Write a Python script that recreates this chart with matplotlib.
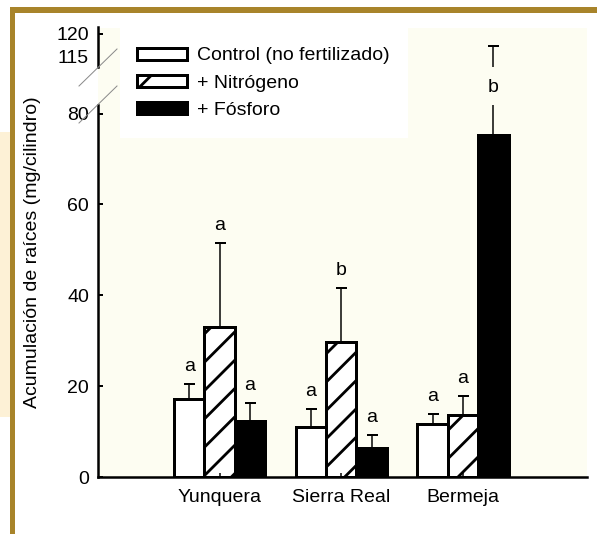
import numpy as np
import matplotlib.pyplot as plt
from matplotlib.patches import Patch, Rectangle
from matplotlib.lines import Line2D

# Agg hatch tiles are one inch wide, so the dpi sets the hatch spacing
DPI = 170
W, H = 597, 534


def px(n):
    """pixel size -> points at the output dpi"""
    return n * 72.0 / DPI


sites = ["Yunquera", "Sierra Real", "Bermeja"]
treatments = ["Control (no fertilizado)", "+ Nitrógeno", "+ Fósforo"]

# root accumulation (mg/cylinder), mean and upper error
control = [17.2, 11.0, 11.6]
control_err = [3.2, 3.9, 2.2]
nitrogen = [33.0, 29.8, 13.6]
nitrogen_err = [18.6, 11.9, 4.2]
phosphorus = [12.3, 6.4, 75.2]
phosphorus_err = [4.0, 2.8, 42.2]

control_letters = ["a", "a", "a"]
nitrogen_letters = ["a", "b", "a"]
phosphorus_letters = ["a", "a", "b"]

low_yticks = [0, 20, 40, 60, 80]
high_yticks = [115, 120]
low_ylim = (0, 81.9)
high_ylim = (112.7, 121.5)

plt.rcParams["font.family"] = ["Liberation Sans", "DejaVu Sans"]
plt.rcParams["hatch.linewidth"] = px(2.8)
fs = px(19.5)

fig = plt.figure(figsize=(W / DPI, H / DPI), dpi=DPI)
fig.patch.set_facecolor("white")


def fig_rect(x0, y0, x1, y1, **kw):
    # box given in pixels from the top-left corner
    return Rectangle((x0 / W, 1 - y1 / H), (x1 - x0) / W, (y1 - y0) / H,
                     transform=fig.transFigure, linewidth=0, **kw)


# page decoration and plot background
fig.patches.append(fig_rect(0, 132, 10, 417, facecolor="#fdf1d6", zorder=-3))
fig.patches.append(fig_rect(10, 7, 597, 13, facecolor="#a8842a", zorder=-3))
fig.patches.append(fig_rect(10, 7, 15, 534, facecolor="#a8842a", zorder=-3))
fig.patches.append(fig_rect(98, 28, 587, 477, facecolor="#fdfdf2", zorder=-2))
fig.patches.append(fig_rect(120, 28, 408, 138, facecolor="white", zorder=-1))

# broken y axis: two panels sharing x
ax_lo = fig.add_axes([98 / W, 1 - 477 / H, 489 / W, 372 / H])
ax_hi = fig.add_axes([98 / W, 1 - 67 / H, 489 / W, 40 / H])

x = np.arange(1, len(sites) + 1)
w = 0.25
series = [
    (control, control_err, control_letters, "white", ""),
    (nitrogen, nitrogen_err, nitrogen_letters, "white", "//"),
    (phosphorus, phosphorus_err, phosphorus_letters, "black", ""),
]

for ax in (ax_lo, ax_hi):
    ax.patch.set_visible(False)
    for k, (vals, err, _, fc, hatch) in enumerate(series):
        ax.bar(x + (k - 1) * w, vals, w,
               yerr=[np.zeros(len(err)), err],
               color=fc, edgecolor="black", linewidth=px(3), hatch=hatch,
               error_kw=dict(elinewidth=px(1.5), capsize=px(5.5),
                             capthick=px(2), ecolor="black"))
    ax.set_xlim(0, 4.02)
    for s in ("top", "right"):
        ax.spines[s].set_visible(False)
    ax.spines["left"].set_linewidth(px(2.5))

# significance letters above the error bars
for k, (vals, err, letters, _, _) in enumerate(series):
    for i in range(len(sites)):
        top = min(vals[i] + err[i], low_ylim[1])  # past the break -> in the gap
        ax_lo.annotate(letters[i], (x[i] + (k - 1) * w, top),
                       xytext=(0, px(13)), textcoords="offset points",
                       ha="center", va="baseline", fontsize=fs,
                       annotation_clip=False)

ax_lo.set_ylim(*low_ylim)
ax_lo.set_yticks(low_yticks)
ax_lo.set_xticks(x)
ax_lo.set_xticklabels(sites)
ax_lo.spines["bottom"].set_linewidth(px(2.5))
ax_lo.tick_params(axis="y", direction="in", length=px(5), width=px(2),
                  pad=px(9), labelsize=fs)
ax_lo.tick_params(axis="x", direction="in", length=px(4), width=px(1.5),
                  pad=px(12), labelsize=fs)

ax_hi.set_ylim(*high_ylim)
ax_hi.set_yticks(high_yticks)
ax_hi.set_xticks([])
ax_hi.spines["bottom"].set_visible(False)
ax_hi.tick_params(axis="y", direction="in", length=px(5), width=px(2),
                  pad=px(9), labelsize=fs)
ax_hi.yaxis.get_major_ticks()[0].tick1line.set_visible(False)

# break marks
for (x0, y0, x1, y1) in [(79, 86, 117, 49), (79, 123, 117, 86)]:
    fig.add_artist(Line2D([x0 / W, x1 / W], [1 - y0 / H, 1 - y1 / H],
                          transform=fig.transFigure, color="#8a8a8a",
                          linewidth=px(1)))

fig.text(33 / W, 1 - 252 / H, "Acumulación de raíces (mg/cilindro)",
         rotation=90, ha="center", va="center", fontsize=fs)

handles = [
    Patch(facecolor="white", edgecolor="black", linewidth=px(3)),
    Patch(facecolor="white", edgecolor="black", linewidth=px(3), hatch="/"),
    Patch(facecolor="black", edgecolor="black", linewidth=px(3)),
]
fig.legend(handles, treatments, loc="upper left",
           bbox_to_anchor=(137 / W, 1 - 47.5 / H), frameon=False,
           fontsize=fs, handlelength=2.56, handleheight=0.56,
           handletextpad=0.5, labelspacing=0.53, borderpad=0,
           borderaxespad=0)

fig.savefig("out.png", dpi=DPI)
